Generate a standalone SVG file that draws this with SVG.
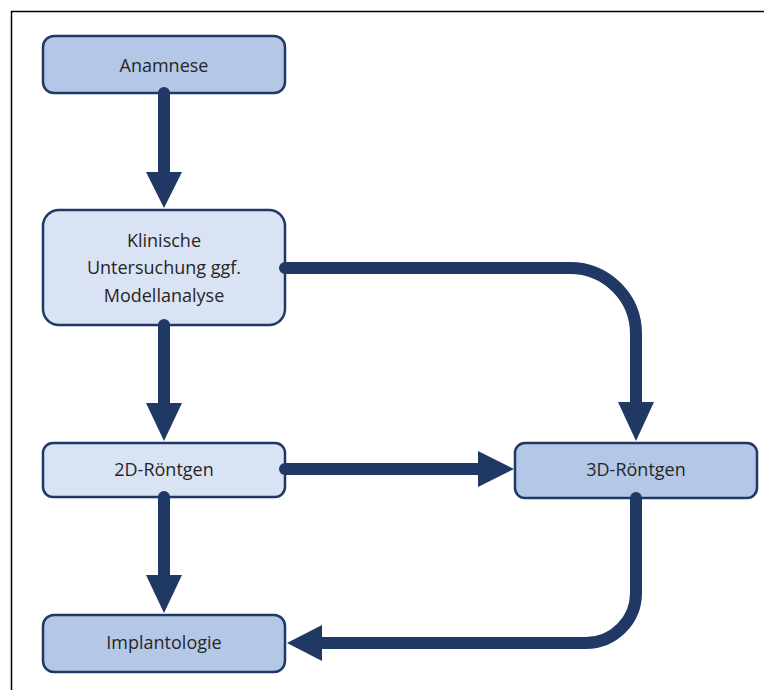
<svg xmlns="http://www.w3.org/2000/svg" width="764" height="690" viewBox="0 0 764 690">
<style>
.box{stroke:#1F3864;stroke-width:2.5}
.dark{fill:#B4C7E7}
.light{fill:#DAE3F3}
.lbl{font-family:"Open Sans","Liberation Sans",sans-serif;font-size:18px;fill:#262626;text-anchor:middle}
.conn{fill:none;stroke:#1F3864;stroke-width:12;stroke-linecap:round;stroke-linejoin:round}
.head{fill:#1F3864}
</style>
<rect x="0" y="0" width="764" height="690" fill="#ffffff"/>
<path d="M11.5 690 V11.5 H764" fill="none" stroke="#000" stroke-width="1.5"/>
<g id="n-anamnese">
<rect class="box dark" x="43" y="36" width="242" height="57" rx="11"/>
<text class="lbl" x="164" y="72">Anamnese</text>
</g>
<g id="n-klinische">
<rect class="box light" x="43" y="210" width="242" height="115" rx="16"/>
<text class="lbl" x="164" y="247">Klinische</text>
<text class="lbl" x="164" y="274">Untersuchung ggf.</text>
<text class="lbl" x="164" y="302">Modellanalyse</text>
</g>
<g id="n-2d">
<rect class="box light" x="43" y="443" width="242" height="54" rx="10"/>
<text class="lbl" x="164" y="476">2D-Röntgen</text>
</g>
<g id="n-3d">
<rect class="box dark" x="515" y="443" width="242" height="55" rx="10"/>
<text class="lbl" x="636" y="476">3D-Röntgen</text>
</g>
<g id="n-implant">
<rect class="box dark" x="43" y="615" width="242" height="57" rx="11"/>
<text class="lbl" x="164" y="649">Implantologie</text>
</g>
<g id="connectors">
<path class="conn" d="M164 93 V174"/>
<polygon class="head" points="146,172 182,172 164,208"/>
<path class="conn" d="M285 268 H570 A66 66 0 0 1 636 334 V404"/>
<polygon class="head" points="618,402 654,402 636,441"/>
<path class="conn" d="M164 325 V405"/>
<polygon class="head" points="146,403 182,403 164,441"/>
<path class="conn" d="M285 469 H480"/>
<polygon class="head" points="478,451 478,487 514,469"/>
<path class="conn" d="M164 497 V577"/>
<polygon class="head" points="146,575 182,575 164,613"/>
<path class="conn" d="M636 498 V593 A50 50 0 0 1 586 643 H320"/>
<polygon class="head" points="322,625 322,661 287,643"/>
</g>
</svg>
